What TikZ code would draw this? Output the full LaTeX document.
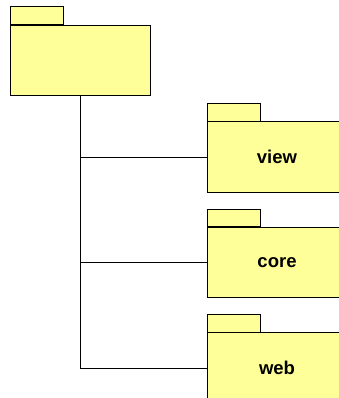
\documentclass[tikz,border=0pt]{standalone}
\usepackage{fontspec}
\setmainfont{Liberation Sans}
\usetikzlibrary{positioning}
\definecolor{pkgyellow}{RGB}{255,255,153}
\tikzset{
  pkgbody/.style={draw=black, fill=pkgyellow, line width=0.8pt, inner sep=0pt,
    minimum width=140pt, minimum height=70.5pt,
    font=\fontsize{18.5}{22}\selectfont\bfseries},
  pkgtab/.style={draw=black, fill=pkgyellow, line width=0.8pt, inner sep=0pt,
    minimum width=53pt, minimum height=17.5pt, anchor=south west},
  tree/.style={draw=black, line width=0.8pt}
}

\begin{document}
\begin{tikzpicture}[x=1pt,y=-1pt]
\useasboundingbox (0,0) rectangle (339,398);
\clip (0,0) rectangle (339,398);
% packages
\node [pkgbody] (top) at (80,60.25) {};
\node [pkgtab] (toptab) at (top.north west) {};
\node [pkgbody] (view) at (277,157) {view};
\node [pkgtab] (viewtab) at (view.north west) {};
\node [pkgbody] (core) at (277,262.5) {core};
\node [pkgtab] (coretab) at (core.north west) {};
\node [pkgbody] (web) at (277,368) {web};
\node [pkgtab] (webtab) at (web.north west) {};
% tree lines
\draw [tree] (top.south) |- (view.west);
\draw [tree] (top.south) |- (core.west);
\draw [tree] (top.south) |- (web.west);
\end{tikzpicture}
\end{document}
